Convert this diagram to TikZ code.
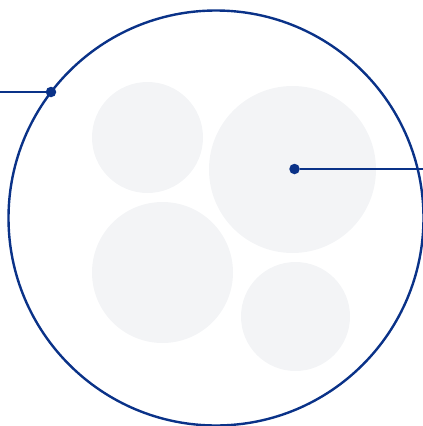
\documentclass[tikz,border=0pt]{standalone}
\usepackage{xcolor}
\usepackage{tikz}
\definecolor{navy}{HTML}{0A3288}
\definecolor{bubble}{HTML}{F3F4F6}

\begin{document}
\begin{tikzpicture}[
        x=1pt, y=-1pt,
        ring/.style={circle, draw=navy, line width=2.4pt, inner sep=0pt},
        bubble/.style={circle, fill=bubble, inner sep=0pt},
        dot/.style={circle, fill=navy, inner sep=0pt, minimum size=10.5pt},
        wire/.style={navy, line width=2.2pt}
    ]
        \useasboundingbox (0,0) rectangle (423,426);

        % bubbles inside the ring
        \node[bubble, minimum size=111pt] (topleft) at (147.5,137.5) {};
        \node[bubble, minimum size=167pt] (topright) at (292.5,169.5) {};
        \node[bubble, minimum size=141pt] (bottomleft) at (162.5,272.5) {};
        \node[bubble, minimum size=109pt] (bottomright) at (295.5,316.5) {};

        \node[ring, minimum size=415pt] (outer) at (216,218) {};

        % call-out lines
        \node[dot] (leftdot) at (51,92) {};
        \node[dot] (rightdot) at (294.5,169) {};
        \coordinate (leftend) at (0,92);
        \coordinate (rightend) at (423,169);

        \draw[wire] (leftend) -- (leftdot);
        \draw[wire] (rightdot) -- (rightend);
    \end{tikzpicture}
\end{document}
